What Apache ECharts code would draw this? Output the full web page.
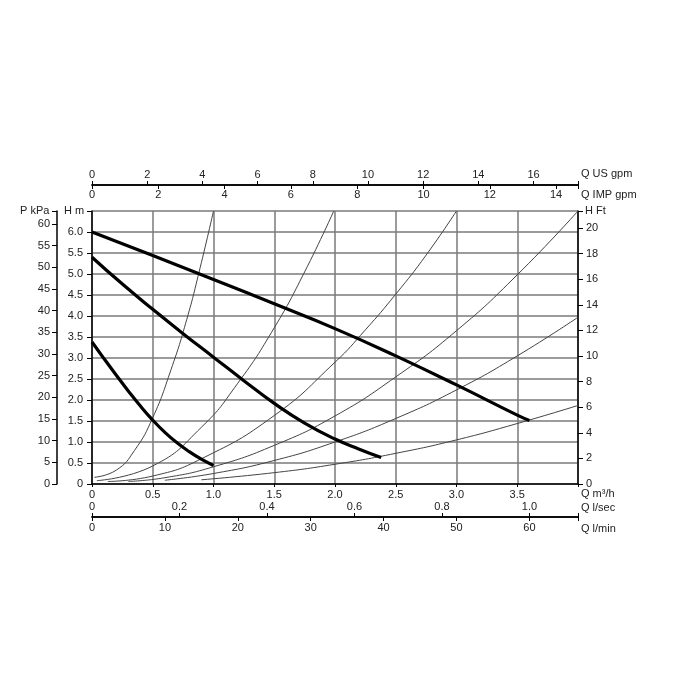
<!DOCTYPE html>
<html>
<head>
<meta charset="utf-8">
<script src="https://cdn.jsdelivr.net/npm/echarts@6/dist/echarts.min.js"></script>
<style>html,body{margin:0;padding:0;background:#fff}#c{width:700px;height:700px}</style>
</head>
<body>
<div id="c"></div>
<script>
// ---- data (Q in m3/h, H in m) ----
const pumpHigh = [[0,6.0],[0.5,5.44],[1.0,4.87],[1.5,4.29],[2.0,3.70],[2.5,3.05],[3.0,2.36],[3.5,1.64],[3.6,1.51]];
const pumpMid  = [[0,5.4],[0.25,4.76],[0.5,4.16],[0.75,3.58],[1.0,3.02],[1.25,2.46],[1.5,1.92],[1.75,1.45],[2.0,1.07],[2.2,0.83],[2.38,0.63]];
const pumpLow  = [[0,3.38],[0.1,2.98],[0.2,2.59],[0.3,2.21],[0.4,1.85],[0.5,1.52],[0.6,1.23],[0.7,0.98],[0.8,0.77],[0.9,0.59],[1.0,0.44]];
const sysA = [[0.02,0.16],[0.2,0.33],[0.35,0.8],[0.5,1.58],[0.65,2.72],[0.78,3.92],[0.89,5.15],[1.0,6.5]];
const sysB = [[0.04,0.08],[0.5,0.43],[0.9,1.35],[1.2,2.4],[1.5,3.72],[1.75,5.05],[1.99,6.5]];
const sysC = [[0.13,0.06],[0.5,0.19],[0.9,0.6],[1.5,1.63],[2.0,2.9],[2.25,3.67],[2.5,4.52],[2.75,5.45],[3.0,6.5]];
const sysD = [[0.3,0.06],[0.6,0.15],[1.0,0.41],[1.5,0.92],[2.0,1.62],[2.5,2.55],[3.0,3.65],[3.5,4.98],[4.0,6.5]];
const sysE = [[0.6,0.09],[1.0,0.25],[1.5,0.56],[2.0,1.0],[2.5,1.56],[3.0,2.24],[3.5,3.05],[4.0,3.97]];
const sysF = [[0.9,0.1],[1.5,0.27],[2.0,0.47],[2.5,0.73],[3.0,1.05],[3.5,1.44],[4.0,1.87]];

// axis ranges
const qM3hMax = 4.0, qM3hStep = 0.5;
const hMax = 6.5, hStep = 0.5;
const hFtMax = 21.33, hFtStep = 2;
const pKpaMax = 63, pKpaStep = 5;
const usGpmMax = 17.61, usGpmStep = 2;
const impGpmMax = 14.66, impGpmStep = 2;
const lSecMax = 1.111, lSecStep = 0.2;
const lMinMax = 66.67, lMinStep = 10;

const FONT = 'Liberation Sans, Arial, Helvetica, sans-serif';
const TXT = '#222';

function fmt(step, dec, maxHide) {
  return function (v) {
    const r = v / step;
    if (Math.abs(r - Math.round(r)) > 1e-6) return '';
    if (maxHide !== undefined && v >= maxHide - 1e-9) return '';
    if (v === 0) return '0';
    return dec ? v.toFixed(dec) : String(Math.round(v));
  };
}
const axLine = {show:true, onZero:false, lineStyle:{color:'#000', width:1.5}};
const tick = (inside,len)=>({show:true, inside:inside, length:len, lineStyle:{color:'#000', width:1}});
const lab = (f, inside, margin)=>({formatter:f, inside:inside, margin:margin, color:TXT, fontSize:11, fontFamily:FONT});

const chart = echarts.init(document.getElementById('c'), null, {renderer:'canvas'});
const thin = d => ({type:'line', data:d, smooth:0.5, showSymbol:false, symbol:'none', lineStyle:{color:'#444', width:1}, z:3, silent:true});
const thick = d => ({type:'line', data:d, smooth:0.5, showSymbol:false, symbol:'none', lineStyle:{color:'#000', width:3.2}, z:5, silent:true});

chart.setOption({
  animation:false,
  backgroundColor:'#fff',
  grid:{left:92, top:211, width:486, height:273, containLabel:false},
  xAxis:[
    {type:'value', position:'bottom', min:0, max:qM3hMax, interval:qM3hStep,
     axisLine:axLine, axisTick:tick(false,3), axisLabel:lab(fmt(qM3hStep,1,qM3hMax),false,5),
     splitLine:{show:true, lineStyle:{color:'#7a7a7a', width:1.5}}},
    {type:'value', position:'bottom', offset:33, min:0, max:lSecMax, interval:lSecStep,
     axisLine:axLine, axisTick:tick(true,4), axisLabel:lab(fmt(lSecStep,1),true,5), splitLine:{show:false}},
    {type:'value', position:'bottom', offset:33, min:0, max:lMinMax, interval:lMinStep,
     axisLine:axLine, axisTick:tick(false,4), axisLabel:lab(fmt(lMinStep,0),false,5), splitLine:{show:false}},
    {type:'value', position:'top', offset:26, min:0, max:usGpmMax, interval:usGpmStep,
     axisLine:axLine, axisTick:tick(false,4), axisLabel:lab(fmt(usGpmStep,0),false,5), splitLine:{show:false}},
    {type:'value', position:'top', offset:26, min:0, max:impGpmMax, interval:impGpmStep,
     axisLine:axLine, axisTick:tick(true,4), axisLabel:lab(fmt(impGpmStep,0),true,4), splitLine:{show:false}}
  ],
  yAxis:[
    {type:'value', position:'left', min:0, max:hMax, interval:hStep,
     axisLine:axLine, axisTick:tick(false,5), axisLabel:lab(fmt(hStep,1,hMax),false,9),
     splitLine:{show:true, lineStyle:{color:'#7a7a7a', width:1.5}}},
    {type:'value', position:'right', min:0, max:hFtMax, interval:hFtStep,
     axisLine:axLine, axisTick:tick(false,5), axisLabel:lab(fmt(hFtStep,0),false,8), splitLine:{show:false}},
    {type:'value', position:'left', offset:35, min:0, max:pKpaMax, interval:pKpaStep,
     axisLine:axLine, axisTick:tick(false,5), axisLabel:lab(fmt(pKpaStep,0),false,7), splitLine:{show:false}}
  ],
  series:[
    thin(sysA), thin(sysB), thin(sysC), thin(sysD), thin(sysE), thin(sysF),
    thick(pumpHigh), thick(pumpMid), thick(pumpLow)
  ],
  graphic:[
    {type:'text', x:20, y:211, style:{text:'P kPa', font:'11px '+FONT, fill:TXT, textVerticalAlign:'middle'}},
    {type:'text', x:64, y:211, style:{text:'H m', font:'11px '+FONT, fill:TXT, textVerticalAlign:'middle'}},
    {type:'text', x:585, y:211, style:{text:'H Ft', font:'11px '+FONT, fill:TXT, textVerticalAlign:'middle'}},
    {type:'text', x:581, y:174, style:{text:'Q US gpm', font:'11px '+FONT, fill:TXT, textVerticalAlign:'middle'}},
    {type:'text', x:581, y:195, style:{text:'Q IMP gpm', font:'11px '+FONT, fill:TXT, textVerticalAlign:'middle'}},
    {type:'text', x:581, y:494, style:{text:'Q m³/h', font:'11px '+FONT, fill:TXT, textVerticalAlign:'middle'}},
    {type:'text', x:581, y:508, style:{text:'Q l/sec', font:'11px '+FONT, fill:TXT, textVerticalAlign:'middle'}},
    {type:'text', x:581, y:529, style:{text:'Q l/min', font:'11px '+FONT, fill:TXT, textVerticalAlign:'middle'}}
  ]
});
</script>
</body>
</html>
